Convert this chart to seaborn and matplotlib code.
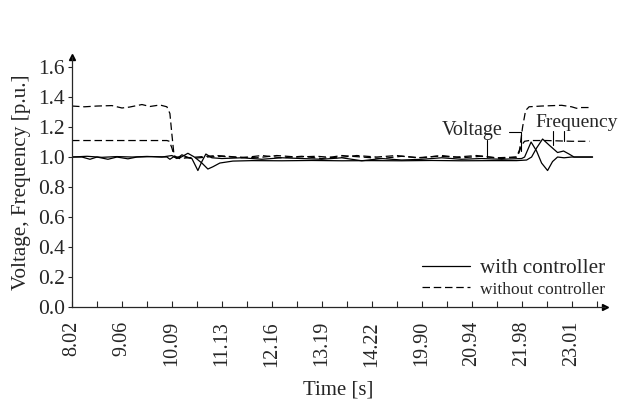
import numpy as np
import pandas as pd
import seaborn as sns
import matplotlib.pyplot as plt
from matplotlib.ticker import MultipleLocator

# tick labels of the time axis (equally spaced on the plot)
time_labels = ["8.02", "9.06", "10.09", "11.13", "12.16", "13.19",
               "14.22", "19.90", "20.94", "21.98", "23.01"]

# voltage without controller (dashed, upper)
volt_nc_pos = [0.0, 0.25, 0.5, 0.8, 1.0, 1.15, 1.4, 1.56, 1.76, 1.9, 1.96, 2.0, 2.04, 2.08,
               2.2, 2.4, 2.7, 3.0, 3.4, 3.8, 4.2, 4.6, 5.0, 5.4, 5.8, 6.2, 6.6, 7.0, 7.4,
               7.8, 8.2, 8.6, 8.9, 8.96, 9.02, 9.08, 9.15, 9.4, 9.8, 10.0, 10.1, 10.2, 10.34]
volt_nc = [1.34, 1.335, 1.34, 1.343, 1.327, 1.333, 1.35, 1.337, 1.347, 1.335, 1.29, 1.15,
           1.02, 0.995, 1.005, 0.99, 1.0, 1.005, 0.995, 1.01, 0.995, 1.005, 0.99, 1.01, 1.0,
           0.99, 1.005, 0.995, 1.01, 0.995, 1.005, 0.99, 1.0, 1.05, 1.2, 1.31, 1.335, 1.34,
           1.345, 1.335, 1.325, 1.33, 1.33]

# frequency without controller (dashed, lower)
freq_nc_pos = [0.0, 0.5, 1.0, 1.5, 1.9, 1.95, 2.0, 2.05, 2.15, 2.5, 2.9, 3.3, 3.7, 4.1,
               4.5, 4.9, 5.3, 5.7, 6.1, 6.5, 6.9, 7.3, 7.7, 8.1, 8.5, 8.9, 8.95, 9.0, 9.06,
               9.15, 9.5, 10.0, 10.36]
freq_nc = [1.11, 1.11, 1.11, 1.11, 1.11, 1.105, 1.06, 1.0, 0.99, 1.0, 1.01, 1.0, 0.995,
           1.01, 1.0, 1.005, 0.995, 1.01, 1.0, 1.01, 0.995, 1.005, 1.0, 1.01, 0.995, 1.0,
           1.03, 1.08, 1.105, 1.11, 1.11, 1.105, 1.105]

# voltage with controller (solid)
volt_c_pos = [0.0, 0.2, 0.36, 0.5, 0.72, 0.9, 1.12, 1.3, 1.6, 1.9, 1.96, 2.05, 2.16, 2.32,
              2.45, 2.6, 2.72, 2.82, 2.96, 3.1, 3.22, 3.6, 4.2, 4.8, 5.4, 6.0, 6.6, 7.2,
              7.8, 8.4, 8.9, 9.1, 9.2, 9.3, 9.42, 9.55, 9.72, 9.84, 9.95, 10.05, 10.42]
volt_c = [1.0, 1.0, 0.985, 1.0, 0.985, 1.0, 0.988, 1.0, 1.003, 1.0, 0.985, 1.005, 0.995,
          1.025, 1.0, 0.96, 0.92, 0.935, 0.96, 0.967, 0.973, 0.976, 0.975, 0.977, 0.975,
          0.976, 0.975, 0.977, 0.975, 0.976, 0.976, 0.98, 1.0, 1.06, 1.12, 1.08, 1.03,
          1.04, 1.02, 1.0, 1.0]

# frequency with controller (solid)
freq_c_pos = [0.0, 0.3, 0.6, 0.9, 1.2, 1.5, 1.8, 2.0, 2.1, 2.2, 2.3, 2.4, 2.52, 2.6, 2.68,
              2.8, 3.0, 3.4, 3.8, 4.2, 4.6, 5.0, 5.4, 5.8, 6.2, 6.6, 7.0, 7.4, 7.8, 8.2,
              8.6, 9.0, 9.06, 9.19, 9.3, 9.4, 9.52, 9.62, 9.72, 9.85, 10.0, 10.42]
freq_c = [1.0, 1.005, 0.998, 1.003, 1.0, 1.004, 1.0, 1.01, 0.99, 1.015, 1.0, 0.99, 0.91,
          0.97, 1.02, 0.995, 0.99, 0.995, 0.985, 0.995, 0.99, 0.985, 0.995, 0.975, 0.99,
          0.98, 0.985, 0.995, 0.985, 0.99, 0.985, 0.99, 1.0, 1.1, 1.04, 0.96, 0.91, 0.97,
          1.0, 0.995, 1.0, 1.0]

sns.set_style("ticks")
plt.rcParams['font.family'] = ['Liberation Serif', 'DejaVu Serif']

fig = plt.figure(figsize=(6.18, 4.0), dpi=100)
ax = fig.add_axes([0.1165, 0.2325, 0.8625, 0.625])

dash = (6, 3)
sns.lineplot(x=volt_c_pos, y=volt_c, color='black', lw=0.9, sort=False,
             estimator=None, ax=ax, label='with controller')
sns.lineplot(x=freq_c_pos, y=freq_c, color='black', lw=0.9, sort=False,
             estimator=None, ax=ax)
sns.lineplot(x=volt_nc_pos, y=volt_nc, color='black', lw=0.9, sort=False,
             estimator=None, ax=ax, dashes=False, linestyle=(0, dash),
             label='without controller')
sns.lineplot(x=freq_nc_pos, y=freq_nc, color='black', lw=0.9, sort=False,
             estimator=None, ax=ax, dashes=False, linestyle=(0, dash))

# annotations
ax.text(7.4, 1.147, "Voltage", fontsize=14.5, ha='left', va='baseline')
ax.text(9.28, 1.2, "Frequency", fontsize=14, ha='left', va='baseline')
ax.plot([8.3, 8.3], [1.115, 1.0], color='black', lw=0.8)
ax.plot([8.74, 8.98, 8.98], [1.167, 1.167, 1.04], color='black', lw=0.8)
ax.plot([9.62, 9.62], [1.175, 1.08], color='black', lw=0.8)
ax.plot([9.84, 9.84], [1.175, 1.105], color='black', lw=0.8)

ax.set_xlim(0, 10.67)
ax.set_ylim(0, 1.667)
ax.set_xticks(range(len(time_labels)))
ax.set_xticklabels(time_labels, rotation=90, fontsize=14.5)
ax.xaxis.set_minor_locator(MultipleLocator(0.5))
ax.set_yticks(np.arange(0, 1.61, 0.2))
ax.set_yticklabels([f"{v:.1f}" for v in np.arange(0, 1.61, 0.2)], fontsize=15.5)
ax.tick_params(axis='x', which='both', direction='in', length=4, width=0.8, pad=10)
ax.tick_params(axis='y', direction='out', length=3, width=0.8, pad=2)

ax.set_xlabel("Time [s]", fontsize=15, labelpad=10)
ax.set_ylabel("Voltage, Frequency [p.u.]", fontsize=15.2, labelpad=5)

sns.despine(ax=ax)
for s in ['left', 'bottom']:
    ax.spines[s].set_linewidth(0.9)
ax.plot(1, 0, '>k', transform=ax.transAxes, clip_on=False, ms=5)
ax.plot(0, 1, '^k', transform=ax.transAxes, clip_on=False, ms=5)

leg = ax.legend(loc='lower right', bbox_to_anchor=(1.0, 0.035), frameon=False,
                fontsize=15.2, handlelength=2.3, handletextpad=0.45,
                labelspacing=0.05, borderpad=0, borderaxespad=0)
leg.get_texts()[1].set_fontsize(12.5)
for h in leg.get_lines():
    h.set_linewidth(0.9)

fig.savefig("out.png", dpi=100)
